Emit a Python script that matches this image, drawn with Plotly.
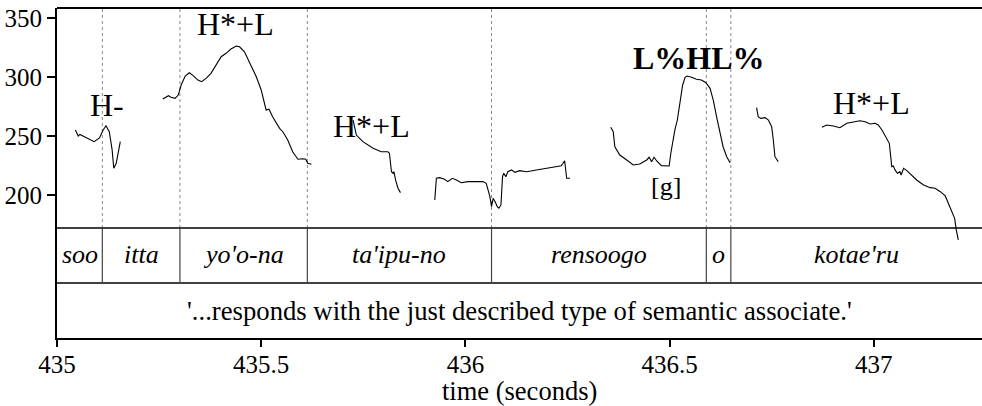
import plotly.graph_objects as go

# ---- data ----
# F0 (Hz) segments of the pitch track, time in seconds
seg1_t = [435.045, 435.052, 435.056, 435.067, 435.079, 435.091, 435.104, 435.113, 435.120, 435.128,
          435.135, 435.139, 435.145, 435.149, 435.155]
seg1_hz = [255.4, 250.3, 251.6, 249.7, 247.8, 245.5, 248.6, 255.4, 259.0, 253.9,
           238.5, 223.0, 227.2, 234.2, 245.5]

seg2_t = [435.259, 435.267, 435.273, 435.279, 435.289, 435.297, 435.304, 435.314, 435.324, 435.332,
          435.345, 435.354, 435.365, 435.377, 435.390, 435.402, 435.414, 435.426, 435.439, 435.447,
          435.459, 435.471, 435.488, 435.500, 435.510, 435.512, 435.519, 435.528, 435.545, 435.553,
          435.565, 435.577, 435.590, 435.602, 435.609, 435.614, 435.623]
seg2_hz = [281.6, 283.5, 284.3, 283.0, 282.1, 284.9, 293.4, 301.0, 303.8, 301.8,
           297.6, 296.2, 299.0, 303.3, 310.3, 317.3, 320.2, 323.8, 326.3, 325.7,
           321.5, 313.1, 300.4, 289.2, 276.5, 272.3, 272.9, 266.6, 256.8, 253.9,
           246.9, 237.0, 230.6, 231.1, 230.6, 227.2, 226.4]

seg3_t = [435.725, 435.733, 435.749, 435.774, 435.794, 435.810, 435.814, 435.819, 435.823, 435.825,
          435.829, 435.835, 435.841]
seg3_hz = [263.8, 251.1, 245.5, 239.9, 237.0, 237.0, 235.7, 220.1, 218.8, 220.1,
           213.1, 206.1, 202.4]

seg4_t = [435.925, 435.929, 435.937, 435.949, 435.957, 435.968, 435.978, 435.990, 436.006, 436.027,
          436.043, 436.051, 436.055, 436.060, 436.064, 436.068, 436.074, 436.078, 436.082, 436.087,
          436.091, 436.094, 436.099, 436.104, 436.113, 436.121, 436.133, 436.150, 436.174, 436.199,
          436.223, 436.235, 436.239, 436.243, 436.248, 436.256]
seg4_hz = [196.2, 214.5, 215.1, 213.7, 211.7, 214.5, 213.1, 210.8, 211.7, 211.7,
           211.7, 210.3, 206.1, 199.0, 190.5, 197.6, 193.9, 190.5, 189.2, 192.0,
           215.9, 218.8, 215.9, 220.1, 221.6, 219.6, 221.0, 220.1, 221.6, 223.0,
           224.3, 225.2, 227.2, 229.4, 214.5, 214.5]

seg5_t = [436.356, 436.362, 436.366, 436.378, 436.395, 436.411, 436.427, 436.444, 436.450, 436.456,
          436.462, 436.468, 436.480, 436.493, 436.499, 436.503, 436.507, 436.513, 436.519, 436.525,
          436.532, 436.538, 436.543, 436.554, 436.566, 436.578, 436.589, 436.599, 436.607, 436.615,
          436.623, 436.631, 436.640, 436.648]
seg5_hz = [257.6, 253.9, 241.2, 234.2, 230.0, 225.8, 226.6, 230.0, 232.3, 228.6,
           232.3, 229.4, 225.2, 225.2, 224.9, 235.7, 244.1, 255.4, 263.8, 277.9,
           293.4, 299.9, 301.0, 299.9, 298.2, 297.6, 295.3, 290.6, 280.7, 266.6,
           252.6, 241.2, 232.8, 227.7]

seg6_t = [436.713, 436.717, 436.723, 436.734, 436.742, 436.750, 436.754, 436.758, 436.766]
seg6_hz = [274.2, 266.6, 265.2, 265.8, 263.8, 258.1, 246.9, 232.8, 228.6]

seg7_t = [436.873, 436.885, 436.901, 436.917, 436.934, 436.950, 436.966, 436.979, 436.991, 437.003,
          437.011, 437.020, 437.032, 437.038, 437.042, 437.044, 437.048, 437.052, 437.058, 437.064,
          437.067, 437.073, 437.081, 437.093, 437.105, 437.122, 437.138, 437.150, 437.163, 437.175,
          437.183, 437.191, 437.198, 437.202, 437.207]
seg7_hz = [257.6, 259.6, 258.7, 257.3, 261.0, 262.4, 263.2, 262.4, 260.4, 261.0,
           259.6, 255.4, 248.3, 244.1, 231.4, 224.3, 224.9, 221.6, 218.8, 220.1,
           217.3, 223.0, 221.0, 217.3, 213.1, 208.9, 206.6, 206.1, 203.2, 199.6,
           193.4, 186.3, 180.7, 170.9, 162.4]

segments_t = [seg1_t, seg2_t, seg3_t, seg4_t, seg5_t, seg6_t, seg7_t]
segments_hz = [seg1_hz, seg2_hz, seg3_hz, seg4_hz, seg5_hz, seg6_hz, seg7_hz]

# word tier
word_labels = ["soo", "itta", "yo'o-na", "ta'ipu-no", "rensoogo", "o", "kotae'ru"]
word_bounds = [435.0, 435.111, 435.301, 435.613, 436.064, 436.590, 436.650, 437.265]
translation = "'...responds with the just described type of semantic associate.'"

# tone labels (text, time, Hz, bold)
tone_text = ["H-", "H*+L", "H*+L", "L%HL%", "[g]", "H*+L"]
tone_t = [435.122, 435.436, 435.769, 436.571, 436.490, 436.994]
tone_hz = [276.5, 345.0, 258.9, 316.0, 208.0, 278.6]
tone_bold = [False, False, False, True, False, False]
tone_size = [32, 32, 32, 32, 26, 32]

x_ticks = [435, 435.5, 436, 436.5, 437]
x_ticktext = ["435", "435.5", "436", "436.5", "437"]
y_ticks = [200, 250, 300, 350]
x_title = "time (seconds)"

# ---- layout constants ----
FONT = "'Times New Roman', 'Liberation Serif', 'DejaVu Serif', serif"
X_RANGE = [435.0, 437.265]
Y_RANGE = [79.5, 358.5]
PITCH_BOTTOM = 1 / 3     # paper y of the pitch panel bottom
TIER_MID = 1 / 6         # paper y between word tier and translation tier

fig = go.Figure()
for t, hz in zip(segments_t, segments_hz):
    fig.add_trace(go.Scatter(x=t, y=hz, mode="lines",
                             line=dict(color="black", width=1.1),
                             showlegend=False, hoverinfo="skip", cliponaxis=False))

shapes = []
for yy, w in [(1.0, 2), (PITCH_BOTTOM, 1.5), (TIER_MID, 1.5)]:
    shapes.append(dict(type="line", xref="paper", yref="paper", x0=0, x1=1, y0=yy, y1=yy,
                       line=dict(color="black", width=w)))
for b in word_bounds[1:-1]:
    shapes.append(dict(type="line", xref="x", yref="paper", x0=b, x1=b, y0=PITCH_BOTTOM, y1=1,
                       line=dict(color="#888888", width=1, dash="dot"), layer="below"))
    shapes.append(dict(type="line", xref="x", yref="paper", x0=b, x1=b, y0=TIER_MID, y1=PITCH_BOTTOM,
                       line=dict(color="#444444", width=1.2)))

annotations = []
for i, w in enumerate(word_labels):
    cx = (word_bounds[i] + word_bounds[i + 1]) / 2
    annotations.append(dict(x=cx, y=(PITCH_BOTTOM + TIER_MID) / 2 + 0.004, xref="x", yref="paper",
                            text=w, showarrow=False, xanchor="center", yanchor="middle",
                            font=dict(family=FONT, size=26, color="black", style="italic")))
annotations.append(dict(x=(X_RANGE[0] + X_RANGE[1]) / 2, y=TIER_MID / 2, xref="x", yref="paper",
                        text=translation, showarrow=False, xanchor="center", yanchor="middle",
                        font=dict(family=FONT, size=26.7, color="black")))
for txt, t, hz, bold, sz in zip(tone_text, tone_t, tone_hz, tone_bold, tone_size):
    annotations.append(dict(x=t, y=hz, xref="x", yref="y", text=txt, showarrow=False,
                            xanchor="center", yanchor="middle",
                            font=dict(family=FONT, size=sz, color="black",
                                      weight="bold" if bold else "normal")))
# axis title
annotations.append(dict(x=0.5, y=-53 / 330, xref="paper", yref="paper", text=x_title,
                        showarrow=False, xanchor="center", yanchor="middle",
                        font=dict(family=FONT, size=26.5, color="black")))

fig.update_layout(
    width=982, height=406,
    margin=dict(l=57, r=0, t=8, b=68),
    paper_bgcolor="white", plot_bgcolor="white",
    shapes=shapes, annotations=annotations,
    font=dict(family=FONT, color="black"),
    xaxis=dict(range=X_RANGE, domain=[0, 1], showgrid=False, zeroline=False,
               showline=True, linecolor="black", linewidth=2,
               ticks="outside", ticklen=7, tickwidth=1.5, tickcolor="black",
               tickvals=x_ticks, ticktext=x_ticktext, ticklabelstandoff=-4,
               tickfont=dict(family=FONT, size=25, color="black")),
    yaxis=dict(range=Y_RANGE, domain=[0, 1], showgrid=False, zeroline=False,
               showline=True, linecolor="black", linewidth=2,
               ticks="outside", ticklen=8, tickwidth=1.5, tickcolor="black",
               tickvals=y_ticks, tickfont=dict(family=FONT, size=25, color="black")),
)

fig.write_html("out.html")
